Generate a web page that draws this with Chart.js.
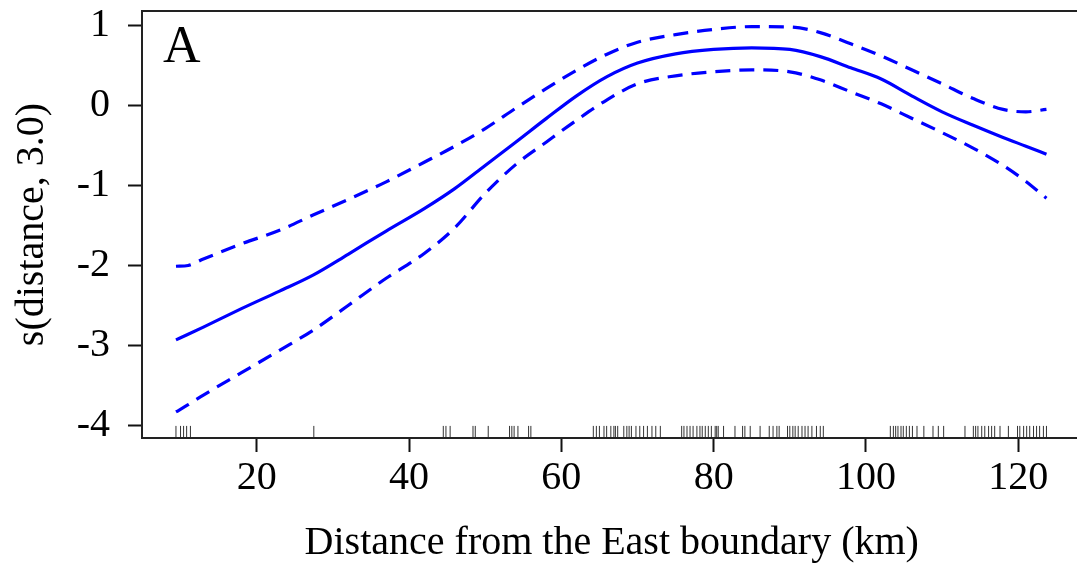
<!DOCTYPE html>
<html>
<head>
<meta charset="utf-8">
<script src="https://cdn.jsdelivr.net/npm/chart.js@4.4.1/dist/chart.umd.min.js"></script>
<style>
  html, body { margin: 0; padding: 0; background: #fff; overflow: hidden; }
  #wrap { width: 1090px; height: 567px; }
</style>
</head>
<body>
<div id="wrap"><canvas id="gamChart" width="1090" height="567"></canvas></div>
<script>
// 数据：距离 (km) 与平滑项及其置信带
const distance = [9.4, 11, 13, 18, 23, 27.4, 32, 37, 42, 46, 50, 54, 58, 62, 66, 70, 75, 80, 85, 90, 94, 98, 102, 106, 110, 114, 118, 121, 123.7];
const fitValues = [-2.93, -2.86, -2.77, -2.54, -2.32, -2.12, -1.86, -1.57, -1.29, -1.04, -0.75, -0.46, -0.165, 0.12, 0.36, 0.53, 0.645, 0.70, 0.72, 0.70, 0.61, 0.47, 0.33, 0.12, -0.08, -0.245, -0.40, -0.51, -0.61];
const upperValues = [-2.01, -2.0, -1.92, -1.73, -1.56, -1.37, -1.175, -0.955, -0.71, -0.51, -0.29, -0.035, 0.21, 0.44, 0.64, 0.79, 0.885, 0.95, 0.985, 0.98, 0.91, 0.77, 0.62, 0.445, 0.27, 0.09, -0.05, -0.08, -0.05];
const lowerValues = [-3.83, -3.74, -3.62, -3.34, -3.06, -2.81, -2.50, -2.16, -1.85, -1.53, -1.10, -0.74, -0.46, -0.185, 0.07, 0.27, 0.37, 0.42, 0.445, 0.42, 0.32, 0.17, 0.02, -0.16, -0.34, -0.53, -0.75, -0.95, -1.16];

// 观测点位置 (rug)
const rugDistance = [
  9.4, 10.0, 10.4, 10.8, 11.3, 27.5, 44.5, 44.85, 45.4,
  48.4, 48.7, 50.4, 53.2, 53.5, 53.8, 54.3, 55.7, 56.0,
  64.2, 64.6, 65.0, 65.6, 65.95, 66.5, 66.9, 67.1, 67.4, 68.2, 68.6, 68.9, 69.2, 69.8, 70.3, 70.8, 71.3, 71.9, 72.4, 73.0,
  75.8, 76.1, 76.5, 76.9, 77.3, 77.8, 78.2, 78.5, 78.9, 79.3, 79.7, 80.2, 80.4, 80.6, 81.3, 82.8, 83.8, 84.1, 84.8, 86.1,
  87.3, 87.8, 88.3, 88.6, 89.7, 90.0, 90.4, 90.7, 91.1, 91.6, 92.0, 92.4, 92.9, 93.5, 94.0, 94.4,
  103.2, 103.6, 103.9, 104.2, 104.6, 104.9, 105.3, 105.7, 106.1, 106.7, 107.6, 108.8, 109.5, 110.2,
  113.0, 114.1, 114.4, 114.7, 115.2, 115.6, 116.1, 116.5, 116.9, 117.6, 118.7, 119.9, 120.2, 120.7, 121.1, 121.5, 122.0, 122.4, 122.8, 123.3, 123.7
];
const rugLevel = -4.08;

const xTickValues = [20, 40, 60, 80, 100, 120];
const yTickValues = [-4, -3, -2, -1, 0, 1];
const xRange = [4.94, 128.3];
const yRange = [-4.156, 1.18];

const xTitle = 'Distance from the East boundary (km)';
const yTitle = 's(distance, 3.0)';
const panelLabel = 'A';

const SERIF = '"Liberation Serif", "Times New Roman", serif';
const LINE_BLUE = '#0000ff';

function toPoints(xs, ys) {
    return xs.map((x, i) => ({ x: x, y: ys[i] }));
}

// 图框与面板标签
const framePlugin = {
    id: 'frame',
    afterDraw(chart) {
        const { ctx, chartArea } = chart;
        ctx.save();
        ctx.strokeStyle = '#222';
        ctx.lineWidth = 2;
        ctx.strokeRect(chartArea.left, chartArea.top, chartArea.right - chartArea.left, chartArea.bottom - chartArea.top);
        ctx.fillStyle = '#000';
        ctx.font = '52px ' + SERIF;
        ctx.textBaseline = 'alphabetic';
        ctx.textAlign = 'left';
        ctx.fillText(panelLabel, chartArea.left + 21, chartArea.top + 51);
        ctx.restore();
    }
};

const ctx = document.getElementById('gamChart');

new Chart(ctx, {
    type: 'scatter',
    data: {
        datasets: [
            {
                label: 'fit',
                data: toPoints(distance, fitValues),
                showLine: true,
                borderColor: LINE_BLUE,
                borderWidth: 3.2,
                pointRadius: 0,
                cubicInterpolationMode: 'monotone'
            },
            {
                label: 'upper',
                data: toPoints(distance, upperValues),
                showLine: true,
                borderColor: LINE_BLUE,
                borderWidth: 3.2,
                borderDash: [15, 9],
                pointRadius: 0,
                cubicInterpolationMode: 'monotone'
            },
            {
                label: 'lower',
                data: toPoints(distance, lowerValues),
                showLine: true,
                borderColor: LINE_BLUE,
                borderWidth: 3.2,
                borderDash: [15, 9],
                pointRadius: 0,
                cubicInterpolationMode: 'monotone'
            },
            {
                label: 'rug',
                data: rugDistance.map(d => ({ x: d, y: rugLevel })),
                showLine: false,
                pointStyle: 'line',
                rotation: 90,
                pointRadius: 6,
                borderColor: '#333',
                borderWidth: 1
            }
        ]
    },
    options: {
        responsive: false,
        animation: false,
        devicePixelRatio: 1,
        layout: { padding: { top: 11, right: 8.5, left: 0, bottom: 0 } },
        plugins: {
            legend: { display: false },
            tooltip: { enabled: false }
        },
        scales: {
            x: {
                type: 'linear',
                min: xRange[0],
                max: xRange[1],
                afterBuildTicks(scale) {
                    scale.ticks = xTickValues.map(v => ({ value: v }));
                },
                afterFit(scale) {
                    scale.height = 129;
                    scale.paddingLeft = 0;
                    scale.paddingRight = 0;
                },
                grid: { drawOnChartArea: false, drawTicks: true, tickLength: 14, tickWidth: 2, tickColor: '#111' },
                border: { display: true, color: '#222', width: 2 },
                ticks: {
                    color: '#000',
                    padding: 2,
                    maxRotation: 0,
                    font: { family: SERIF, size: 40 },
                    callback: v => String(v)
                },
                title: {
                    display: true,
                    text: xTitle,
                    color: '#000',
                    padding: { top: 0, bottom: 0 },
                    font: { family: SERIF, size: 40 }
                }
            },
            y: {
                type: 'linear',
                min: yRange[0],
                max: yRange[1],
                afterBuildTicks(scale) {
                    scale.ticks = yTickValues.map(v => ({ value: v }));
                },
                afterFit(scale) {
                    scale.width = 142;
                    scale.paddingTop = 0;
                    scale.paddingBottom = 0;
                },
                grid: { drawOnChartArea: false, drawTicks: true, tickLength: 14, tickWidth: 2, tickColor: '#111' },
                border: { display: true, color: '#222', width: 2 },
                ticks: {
                    color: '#000',
                    padding: 18,
                    font: { family: SERIF, size: 40 },
                    callback: v => String(v)
                },
                title: {
                    display: true,
                    text: yTitle,
                    color: '#000',
                    padding: { top: 8, bottom: 0 },
                    font: { family: SERIF, size: 40 }
                }
            }
        }
    },
    plugins: [framePlugin]
});
</script>
</body>
</html>
